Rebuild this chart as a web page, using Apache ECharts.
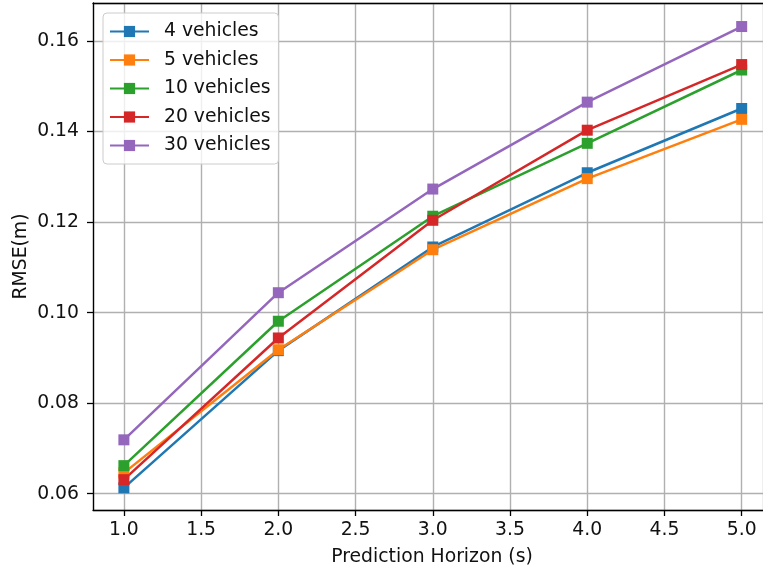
<!DOCTYPE html>
<html>
<head>
    <meta charset="utf-8">
    <title>RMSE vs Prediction Horizon</title>
    <script src="https://cdn.jsdelivr.net/npm/echarts@6/dist/echarts.min.js"></script>
    <style>
        html, body { margin: 0; padding: 0; background: #fff; }
    </style>
</head>
<body>
    <div id="box" style="width: 763px;height: 574px;"></div>
    <script>
        // prediction horizon (s)
        var horizons = [1.0, 2.0, 3.0, 4.0, 5.0];
        var names = ['4 vehicles', '5 vehicles', '10 vehicles', '20 vehicles', '30 vehicles'];
        var rmse4  = [0.0613, 0.0916, 0.1145, 0.1309, 0.1451];
        var rmse5  = [0.0646, 0.0918, 0.1139, 0.1296, 0.1427];
        var rmse10 = [0.0662, 0.0981, 0.1213, 0.1374, 0.1536];
        var rmse20 = [0.0631, 0.0944, 0.1204, 0.1403, 0.1548];
        var rmse30 = [0.0719, 0.1044, 0.1273, 0.1465, 0.1632];
        var colors = ['#1f77b4', '#ff7f0e', '#2ca02c', '#d62728', '#9467bd'];

        var font = 'DejaVu Sans';
        var fs = 18.8;
        var txt = '#111';
        var allRmse = [rmse4, rmse5, rmse10, rmse20, rmse30];

        var series = allRmse.map(function (vals, i) {
            return {
                name: names[i],
                type: 'line',
                xAxisIndex: 0,
                data: horizons.map(function (x, j) { return [x, vals[j]]; }),
                symbol: 'rect',
                symbolSize: 11,
                showSymbol: true,
                lineStyle: { width: 2.5, color: colors[i] },
                itemStyle: { color: colors[i] },
                emphasis: { disabled: true },
                animation: false
            };
        });

        var myChart = echarts.init(document.getElementById('box'));
        var option = {
            animation: false,
            grid: { left: 93, right: 0, top: 3, bottom: 64 },
            legend: {
                data: names,
                orient: 'vertical',
                left: 103, top: 13,
                padding: [9, 8, 9, 6],
                itemWidth: 39, itemHeight: 14, itemGap: 9.5,
                borderColor: '#cccccc', borderWidth: 1, borderRadius: 4,
                backgroundColor: 'rgba(255,255,255,0.8)',
                textStyle: { fontFamily: font, fontSize: fs, color: txt, lineHeight: 18.5, padding: [0, 0, 0, 10] }
            },
            xAxis: [{
                type: 'value',
                position: 'bottom',
                min: 0.8, max: 5.138, splitNumber: 9,
                name: 'Prediction Horizon (s)',
                nameLocation: 'middle', nameGap: 38,
                nameTextStyle: { fontFamily: font, fontSize: fs, color: txt, padding: [0, 0, 0, 8] },
                axisLine: { show: true, lineStyle: { color: '#000', width: 1.3 } },
                axisTick: { show: true, inside: false, length: 6, lineStyle: { color: '#000', width: 1.3 } },
                axisLabel: {
                    fontFamily: font, fontSize: fs, color: txt, margin: 11,
                    showMinLabel: false, showMaxLabel: false,
                    formatter: function (v) { return v.toFixed(1); }
                },
                splitLine: { show: true, lineStyle: { color: '#b0b0b0', width: 1.4 } }
            }, {
                // top spine only
                type: 'value',
                position: 'top',
                min: 0.8, max: 5.138,
                axisLine: { show: true, onZero: false, lineStyle: { color: '#000', width: 1.3 } },
                axisTick: { show: false },
                axisLabel: { show: false },
                splitLine: { show: false }
            }],
            yAxis: {
                type: 'value',
                min: 0.0564, max: 0.1684, splitNumber: 5,
                name: 'RMSE(m)',
                nameLocation: 'middle', nameGap: 62, nameRotate: 90,
                nameMoveOverlap: false,
                nameTextStyle: { fontFamily: font, fontSize: fs, color: txt },
                axisLine: { show: true, lineStyle: { color: '#000', width: 1.3 } },
                axisTick: { show: true, inside: false, length: 6, lineStyle: { color: '#000', width: 1.3 } },
                axisLabel: {
                    fontFamily: font, fontSize: fs, color: txt, margin: 14,
                    showMinLabel: false, showMaxLabel: false,
                    formatter: function (v) { return v.toFixed(2); }
                },
                splitLine: { show: true, lineStyle: { color: '#b0b0b0', width: 1.4 } }
            },
            series: series
        };
        myChart.setOption(option);
    </script>
</body>
</html>
